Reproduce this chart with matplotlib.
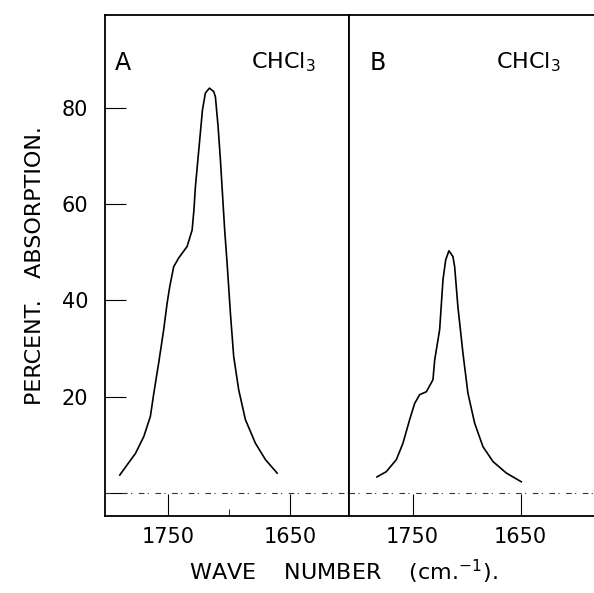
import numpy as np
import matplotlib.pyplot as plt

# spectrum A (wave number, percent absorption)
wn_a = [1789.9, 1783.9, 1777.0, 1770.2, 1764.8, 1762.0, 1758.0, 1753.9, 1751.1,
        1748.9, 1745.7, 1741.6, 1734.7, 1730.6, 1729.1, 1727.9, 1722.1, 1719.7,
        1716.4, 1712.9, 1711.5, 1709.3, 1707.4, 1703.9, 1701.9, 1699.2, 1696.5,
        1692.4, 1686.9, 1678.7, 1670.5, 1660.9]
ab_a = [3.7, 5.8, 8.2, 11.7, 15.9, 20.7, 27.0, 33.9, 39.4,
        42.9, 47.0, 48.8, 51.2, 54.6, 58.8, 63.6, 79.6, 83.1,
        84.1, 83.4, 82.3, 76.1, 69.2, 54.6, 47.7, 37.3, 28.3,
        21.4, 15.2, 10.3, 6.9, 4.1]

# spectrum B
wn_b = [1783.1, 1774.4, 1765.1, 1759.0, 1752.8, 1748.1, 1743.5, 1737.3, 1731.2,
        1729.6, 1725.0, 1721.9, 1719.4, 1716.4, 1712.7, 1711.1, 1708.1, 1703.4,
        1698.8, 1692.6, 1684.9, 1675.6, 1663.2, 1649.4]
ab_b = [3.3, 4.4, 6.9, 10.3, 15.2, 18.6, 20.4, 21.0, 23.5,
        27.6, 33.9, 44.3, 48.4, 50.3, 49.1, 47.0, 38.7, 29.0,
        20.7, 14.5, 9.6, 6.5, 4.1, 2.3]

y_ticks = [0, 20, 40, 60, 80]
y_labels = ['', '20', '40', '60', '80']
x_ticks = [1750, 1650]

plt.rcParams['font.family'] = 'DejaVu Sans'

fig = plt.figure(figsize=(5.94, 5.93), dpi=100)
axA = fig.add_axes([0.1768, 0.130, 0.4107, 0.8447])
axB = fig.add_axes([0.5875, 0.130, 0.4125, 0.8447])

for ax in (axA, axB):
    ax.set_ylim(-4.8, 99.3)
    ax.axhline(0, color='#333333', lw=0.8, ls=(0, (5, 3, 1, 6)))
    ax.set_xticks(x_ticks)
    ax.set_xticklabels([str(t) for t in x_ticks], fontsize=15)
    ax.tick_params(axis='x', direction='in', length=16, width=0.8, pad=8)
    for s in ax.spines.values():
        s.set_linewidth(1.3)

axA.plot(wn_a, ab_a, color='black', lw=1.2)
axB.plot(wn_b, ab_b, color='black', lw=1.2)

axA.set_xlim(1802, 1602)
axB.set_xlim(1809, 1582)
axA.set_xticks([1700], minor=True)
axA.tick_params(axis='x', which='minor', direction='in', length=5)

axA.set_yticks(y_ticks)
axA.set_yticklabels(y_labels, fontsize=15)
axA.tick_params(axis='y', direction='in', length=15, width=0.8, pad=12)
axB.tick_params(axis='y', left=False, labelleft=False)
axB.spines['right'].set_visible(False)

axA.text(0.075, 0.905, 'A', transform=axA.transAxes, fontsize=17, ha='center', va='center')
axA.text(0.60, 0.905, r'CHCl$_3$', transform=axA.transAxes, fontsize=16, ha='left', va='center')
axB.text(0.118, 0.905, 'B', transform=axB.transAxes, fontsize=17, ha='center', va='center')
axB.text(0.60, 0.905, r'CHCl$_3$', transform=axB.transAxes, fontsize=16, ha='left', va='center')

axA.set_ylabel('PERCENT.   ABSORPTION.', fontsize=16, labelpad=12)
fig.text(0.578, 0.035, r'WAVE    NUMBER    (cm.$^{-1}$).', fontsize=16, ha='center', va='center')

fig.savefig('out.png', dpi=100)
